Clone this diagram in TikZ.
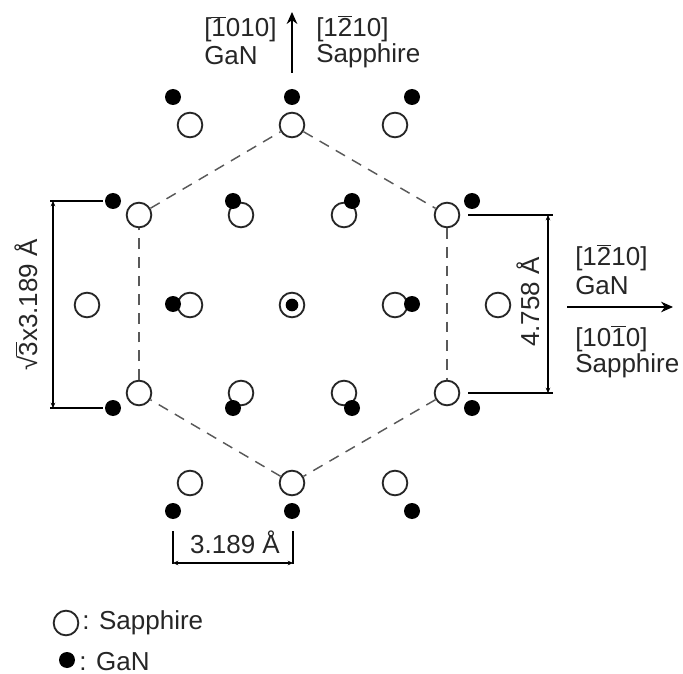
\documentclass[tikz,border=0pt]{standalone}
\usepackage{fontspec}
\setmainfont{Liberation Sans}
\usetikzlibrary{arrows.meta}
\newcommand\ovb[1]{\leavevmode{\setbox0\hbox{#1}\rlap{\raisebox{1.08\ht0}{\rule{\wd0}{0.75pt}}}#1}}
\tikzset{
  x=0.75pt,y=-0.75pt,
  sapphire/.style={circle,draw=black!85,line width=1.4pt,fill=white,minimum size=18.5pt,inner sep=0pt},
  gan/.style={circle,fill=black,minimum size=12pt,inner sep=0pt},
  bond/.style={draw=black!65,dash pattern=on 8pt off 6pt,line width=1.1pt},
  dimline/.style={draw=black,line width=1.1pt},
  dimarrow/.style={draw=black,line width=0.9pt,{Stealth[length=4pt,width=3.5pt]}-{Stealth[length=4pt,width=3.5pt]}},
  dirarrow/.style={draw=black,line width=1.1pt,-{Stealth[length=9pt,width=8pt]}},
  lbl/.style={font=\fontsize{19.5pt}{23pt}\selectfont,text=black!85,inner sep=0pt},
  lleft/.style={lbl,anchor=base west},
  lrot/.style={lbl,anchor=base,rotate=90}
}
\begin{document}
\begin{tikzpicture}
\useasboundingbox (0,0) rectangle (683,674);
% Sapphire atoms
\foreach \n/\px/\py in {s1/190/125,s2/292/125,s3/395/125,
  s4/139/215,s5/241/215,s6/344/215,s7/447/215,
  s8/87/305,s9/190/305,s10/292/305,s11/395/305,s12/498/305,
  s13/139/393,s14/241/393,s15/344/393,s16/447/393,
  s17/190/483,s18/292/483,s19/395/483}
  \node[sapphire] (\n) at (\px,\py) {};
% GaN atoms
\foreach \n/\px/\py in {g1/173/97,g2/292/97,g3/412/97,
  g4/113/201,g5/233/201,g6/352/201,g7/472/201,
  g8/173/304,g9/412/304,
  g10/113/408,g11/233/408,g12/352/408,g13/472/408,
  g14/173/511,g15/292/511,g16/412/511}
  \node[gan] (\n) at (\px,\py) {};
\node[gan,minimum size=9.5pt] (gc) at (292,305) {};
% Hexagon
\draw[bond] (s2) -- (s7);
\draw[bond] (s7) -- (s16);
\draw[bond] (s16) -- (s18);
\draw[bond] (s18) -- (s13);
\draw[bond] (s13) -- (s4);
\draw[bond] (s4) -- (s2);
% Top direction
\coordinate (ta) at (292,73);
\coordinate (tb) at (292,12);
\draw[dirarrow] (ta) -- (tb);
\node[lleft] (t1) at (204,37) {[\ovb{1}010]};
\node[lleft] (t2) at (204,65) {GaN};
\node[lleft] (t3) at (316,37) {[1\ovb{2}10]};
\node[lleft] (t4) at (316,63) {Sapphire};
% Right direction
\coordinate (ra) at (567,307);
\coordinate (rb) at (673,307);
\draw[dirarrow,line width=0.8pt] (ra) -- (rb);
\node[lleft] (r1) at (575,266) {[1\ovb{2}10]};
\node[lleft] (r2) at (575,295) {GaN};
\node[lleft] (r3) at (575,346) {[10\ovb{1}0]};
\node[lleft] (r4) at (575,372) {Sapphire};
% Left dimension
\coordinate (la) at (50,201);
\coordinate (lb) at (103,201);
\coordinate (lc) at (50,408);
\coordinate (ld) at (103,408);
\coordinate (le) at (53,201);
\coordinate (lf) at (53,408);
\draw[dimline] (la) -- (lb);
\draw[dimline] (lc) -- (ld);
\draw[dimarrow] (le) -- (lf);
\node[lrot] (ltxt) at (37,305) {√\ovb{3}x3.189 Å};
% Right dimension
\coordinate (da) at (468,215);
\coordinate (db) at (553,215);
\coordinate (dc) at (468,393);
\coordinate (dd) at (553,393);
\coordinate (de) at (548,215);
\coordinate (df) at (548,393);
\draw[dimline] (da) -- (db);
\draw[dimline] (dc) -- (dd);
\draw[dimarrow] (de) -- (df);
\node[lrot] (rtxt) at (539,302) {4.758 Å};
% Bottom dimension
\coordinate (ba) at (173,531);
\coordinate (bb) at (173,564);
\coordinate (bc) at (293,531);
\coordinate (bd) at (293,564);
\coordinate (be) at (173,563);
\coordinate (bf) at (293,563);
\draw[dimline] (ba) -- (bb);
\draw[dimline] (bc) -- (bd);
\draw[dimarrow] (be) -- (bf);
\node[lbl,anchor=base] (btxt) at (235,553) {3.189 Å};
% Legend
\node[sapphire] (ls) at (66,623) {};
\node[gan] (lg) at (67,660) {};
\node[lleft] (lst) at (82,629) {: Sapphire};
\node[lleft] (lgt) at (79,670) {: GaN};
\end{tikzpicture}
\end{document}
